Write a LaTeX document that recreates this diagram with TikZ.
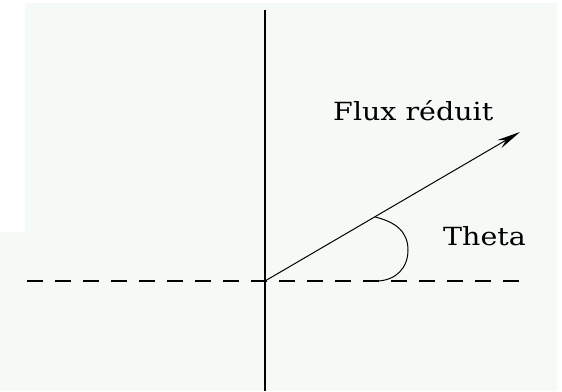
\documentclass[tikz,border=0pt]{standalone}
\usepackage{fontspec}
\setmainfont{DejaVu Serif}
\usetikzlibrary{arrows.meta}
\definecolor{mint}{RGB}{246,250,247}
\tikzset{
  axis/.style={line width=1.8pt, black},
  dashaxis/.style={line width=1.8pt, black, dash pattern=on 16pt off 12pt},
  vec/.style={line width=1pt, black, -{Stealth[length=24pt,width=9pt]}},
  anglearc/.style={line width=1pt, black},
  lbl/.style={anchor=base west, inner sep=0pt, xscale=1.14, font=\fontsize{25}{27}\selectfont}
}
\begin{document}
\begin{tikzpicture}[x=1pt,y=-1pt]
\useasboundingbox (0,0) rectangle (562,391);
\fill[white] (0,0) rectangle (562,391);
\fill[mint] (0,232) -- (25,232) -- (25,3) -- (557,3) -- (557,391) -- (0,391) -- cycle;
\coordinate (O) at (265,281);
\coordinate (top) at (265,10);
\coordinate (bot) at (265,391);
\coordinate (L) at (27,281);
\coordinate (R) at (523,281);
\coordinate (tip) at (520,132);
\coordinate (A) at (375,217);
\coordinate (B) at (378,281);
\draw[axis] (top) -- (bot);
\draw[dashaxis] (L) -- (R);
\draw[vec] (O) -- (tip);
\draw[anglearc] (A) .. controls (396,222) and (408,232) .. (408,250) .. controls (408,268) and (396,280) .. (B);
\node[lbl] (flux) at (333,120) {Flux réduit};
\node[lbl] (theta) at (443,245) {Theta};
\end{tikzpicture}
\end{document}
